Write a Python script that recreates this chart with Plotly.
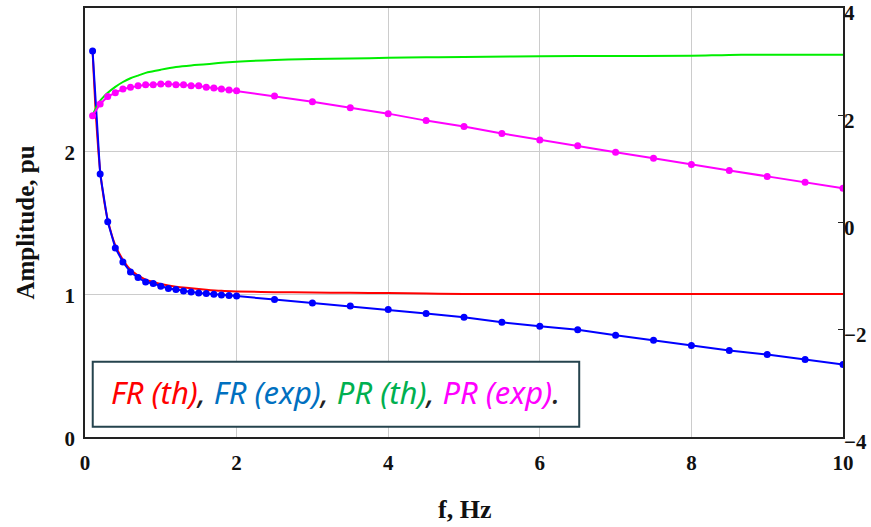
import plotly.graph_objects as go

# Experimental frequencies (Hz)
f_exp = [0.1, 0.2, 0.3, 0.4, 0.5, 0.6, 0.7, 0.8, 0.9, 1.0, 1.1, 1.2, 1.3, 1.4, 1.5,
         1.6, 1.7, 1.8, 1.9, 2.0, 2.5, 3.0, 3.5, 4.0, 4.5, 5.0, 5.5, 6.0, 6.5, 7.0,
         7.5, 8.0, 8.5, 9.0, 9.5, 10.0]
# FR (exp) amplitude, pu
fr_exp = [2.70, 1.84, 1.505, 1.322, 1.224, 1.154, 1.115, 1.084, 1.073, 1.054, 1.038,
          1.031, 1.021, 1.014, 1.007, 1.003, 0.998, 0.993, 0.989, 0.986, 0.961, 0.937,
          0.916, 0.891, 0.863, 0.837, 0.802, 0.774, 0.750, 0.711, 0.676, 0.640, 0.605,
          0.577, 0.542, 0.507]
# PR (exp) phase, rad (right axis)
pr_exp = [1.99, 2.21, 2.35, 2.42, 2.49, 2.52, 2.55, 2.57, 2.57, 2.585, 2.585, 2.57,
          2.57, 2.55, 2.55, 2.52, 2.51, 2.49, 2.47, 2.455, 2.36, 2.25, 2.14, 2.03,
          1.90, 1.79, 1.66, 1.54, 1.43, 1.31, 1.20, 1.08, 0.97, 0.86, 0.75, 0.64]

# Theoretical curves
f_th = [0.1, 0.15, 0.2, 0.25, 0.3, 0.4, 0.5, 0.6, 0.7, 0.8, 0.9, 1.0, 1.2, 1.4, 1.6,
        1.8, 2.0, 2.5, 3.0, 3.5, 4.0, 4.5, 5.0, 6.0, 7.0, 8.0, 8.5, 9.0, 10.0]
fr_th = [2.70, 2.20, 1.86, 1.66, 1.52, 1.34, 1.24, 1.17, 1.13, 1.10, 1.085, 1.07,
         1.05, 1.04, 1.03, 1.022, 1.018, 1.013, 1.010, 1.008, 1.007, 1.003, 1.0,
         1.0, 1.0, 1.0, 1.0, 1.0, 1.0]
pr_th = [2.00, 2.15, 2.27, 2.35, 2.42, 2.53, 2.62, 2.69, 2.74, 2.79, 2.82, 2.85,
         2.90, 2.93, 2.95, 2.98, 3.00, 3.03, 3.05, 3.06, 3.07, 3.08, 3.085, 3.10,
         3.105, 3.11, 3.125, 3.127, 3.13]

x_ticks = [0, 2, 4, 6, 8, 10]
y_ticks = [0, 1, 2]
y2_ticks = [-4, -2, 0, 2, 4]

fig = go.Figure()
fig.add_trace(go.Scatter(x=f_th, y=fr_th, mode="lines", line=dict(color="#ff0000", width=2),
                         line_shape="spline", showlegend=False))
fig.add_trace(go.Scatter(x=f_th, y=pr_th, mode="lines", line=dict(color="#00ee00", width=2),
                         line_shape="spline", yaxis="y2", showlegend=False))
fig.add_trace(go.Scatter(x=f_exp, y=pr_exp, mode="lines+markers",
                         line=dict(color="#ff00ff", width=2),
                         marker=dict(color="#ff00ff", size=7), yaxis="y2", showlegend=False))
fig.add_trace(go.Scatter(x=f_exp, y=fr_exp, mode="lines+markers",
                         line=dict(color="#0000ff", width=2),
                         marker=dict(color="#0000ff", size=7), showlegend=False))

tickfont = dict(family="Liberation Serif", size=21, color="#111", weight="bold")

fig.update_layout(
    width=871, height=527,
    margin=dict(l=85, r=28, t=8, b=90, autoexpand=False),
    paper_bgcolor="white", plot_bgcolor="white",
    xaxis=dict(range=[0, 10], tickvals=x_ticks, showgrid=True, automargin=False,
               gridcolor="#cccccc", gridwidth=1, zeroline=False,
               showline=True, linecolor="#222", linewidth=1.5, mirror=True,
               tickfont=tickfont, ticks="", ticklabelstandoff=6),
    yaxis=dict(range=[0, 3], tickvals=y_ticks, showgrid=True, gridcolor="#cccccc",
               gridwidth=1, zeroline=False, showline=True, linecolor="#222",
               automargin=False, linewidth=1.5, mirror=True, tickfont=tickfont,
               ticks="", ticklabelstandoff=4, ticklabelshift=2),
    yaxis2=dict(range=[-4, 4], tickvals=y2_ticks, overlaying="y", side="right",
                automargin=False, showgrid=False, zeroline=False, showline=False,
                tickfont=tickfont, ticks="inside", ticklen=5, tickcolor="#222",
                ticklabelstandoff=0, ticklabelshift=5, ticklabeloverflow="allow"),
)

# axis titles
fig.add_annotation(xref="paper", yref="paper", x=0.5, y=-0.170, yanchor="middle",
                   text="f, Hz", showarrow=False,
                   font=dict(family="Liberation Serif", size=26, color="#111", weight="bold"))
fig.add_annotation(xref="paper", yref="paper", x=-0.079, y=0.5, xanchor="center",
                   text="Amplitude, pu", textangle=-90, showarrow=False,
                   font=dict(family="Liberation Serif", size=25, color="#111", weight="bold"))

# legend box
fig.add_shape(type="rect", xref="paper", yref="paper", x0=0.0102, x1=0.652,
              y0=0.024, y1=0.1755, line=dict(color="#25434d", width=2),
              fillcolor="white", layer="above")
legend_text = ("<i><span style='color:#ff0000'>FR (th)</span>, "
               "<span style='color:#0070c0'>FR (exp)</span>, "
               "<span style='color:#00b050'>PR (th)</span>, "
               "<span style='color:#ff00ff'>PR (exp)</span>.</i>")
fig.add_annotation(xref="paper", yref="paper", x=0.33, y=0.104, text=legend_text,
                   showarrow=False, font=dict(family="Noto Sans", size=31, color="#222"),
                   xanchor="center", yanchor="middle")

fig.write_html("out.html", config={"displayModeBar": False},
               post_script="document.body.style.margin='0';")
